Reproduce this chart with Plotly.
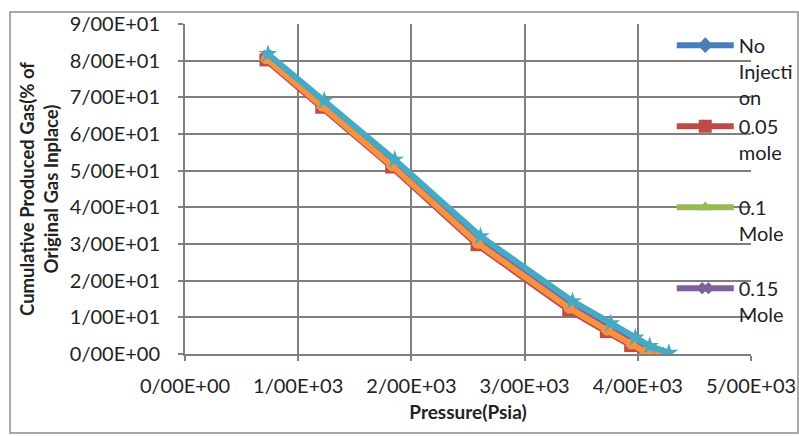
import plotly.graph_objects as go

# Reservoir pressure (psia) and cumulative produced gas (% of OGIP) per injection case
p_no_inj = [725, 1220, 1840, 2595, 3405, 3740, 3955, 4075, 4185]
g_no_inj = [81.0, 68.2, 52.0, 30.9, 13.2, 7.2, 3.4, 1.2, 0.0]

p_005 = [715, 1208, 1826, 2580, 3390, 3722, 3937, 4057, 4165]
g_005 = [80.2, 67.3, 51.0, 29.8, 12.0, 6.1, 2.3, 0.3, 0.0]

p_010 = [721, 1215, 1834, 2589, 3399, 3733, 3948, 4068, 4178]
g_010 = [80.7, 67.8, 51.6, 30.5, 12.8, 6.8, 3.0, 0.8, 0.0]

p_015 = [728, 1224, 1845, 2600, 3411, 3748, 3963, 4085, 4200]
g_015 = [81.3, 68.5, 52.3, 31.3, 13.6, 7.6, 3.8, 1.6, 0.2]

p_020 = [719, 1212, 1830, 2585, 3395, 3728, 3943, 4063, 4172]
g_020 = [80.5, 67.6, 51.3, 30.2, 12.5, 6.5, 2.7, 0.6, 0.0]

p_025 = [733, 1230, 1853, 2610, 3423, 3762, 3978, 4105, 4275]
g_025 = [81.8, 69.1, 53.0, 32.1, 14.4, 8.4, 4.5, 2.2, 0.3]

x_tickvals = [0, 1000, 2000, 3000, 4000, 5000]
x_ticktext = ["0/00E+00", "1/00E+03", "2/00E+03", "3/00E+03", "4/00E+03", "5/00E+03"]
y_tickvals = [0, 10, 20, 30, 40, 50, 60, 70, 80, 90]
y_ticktext = ["0/00E+00", "1/00E+01", "2/00E+01", "3/00E+01", "4/00E+01",
              "5/00E+01", "6/00E+01", "7/00E+01", "8/00E+01", "9/00E+01"]

FONT = "Lato, 'Open Sans', sans-serif"
GRID = "#7f7f7f"

series = [
    ("No<br>Injecti<br>on", p_no_inj, g_no_inj, "#4A7EBB", "diamond", 12, True),
    ("0.05<br>mole<br> ", p_005, g_005, "#BE4B48", "square", 13, True),
    ("0.1<br>Mole<br> ", p_010, g_010, "#98B954", "triangle-up", 12, True),
    ("0.15<br>Mole", p_015, g_015, "#7D60A0", "x", 11, True),
    ("0.2 Mole", p_020, g_020, "#F69240", "circle", 11, False),
    ("0.25 Mole", p_025, g_025, "#46AAC5", "star", 14, False),
]

fig = go.Figure()
for i, (name, px_, gy, color, sym, msize, show) in enumerate(series):
    fig.add_trace(go.Scatter(
        x=px_, y=gy, name=name, mode="lines+markers",
        line=dict(color=color, width=6),
        marker=dict(symbol=sym, size=msize, color=color),
        showlegend=show, legendgroup=f"g{i}",
    ))

fig.update_layout(
    width=799, height=436,
    margin=dict(l=185, r=48, t=24, b=82, autoexpand=False),
    paper_bgcolor="white", plot_bgcolor="white",
    font=dict(family=FONT, size=20, color="#222222"),
    legend=dict(
        x=0.86, y=0.995, xanchor="left", yanchor="top",
        bgcolor="rgba(0,0,0,0)", font=dict(family=FONT, size=20, color="#222222"),
        itemwidth=57, tracegroupgap=0, valign="top",
    ),
    shapes=[dict(type="rect", xref="paper", yref="paper",
                 x0=-175 / 566, y0=-79 / 330, x1=1 + 47 / 566, y1=1 + 12 / 330,
                 line=dict(color="#8c8c8c", width=1.5), fillcolor="rgba(0,0,0,0)",
                 layer="below")],
)

fig.update_xaxes(
    range=[0, 5000], tickvals=x_tickvals, ticktext=x_ticktext,
    showgrid=True, gridcolor=GRID, gridwidth=2,
    showline=True, linecolor=GRID, linewidth=2,
    ticks="outside", ticklen=5, tickcolor=GRID, tickwidth=2,
    ticklabelstandoff=8, zeroline=False,
    title=dict(text="<b>Pressure(Psia)</b>", font=dict(size=19), standoff=10),
)
fig.update_yaxes(
    range=[0, 90], tickvals=y_tickvals, ticktext=y_ticktext,
    showgrid=True, gridcolor=GRID, gridwidth=2,
    showline=True, linecolor=GRID, linewidth=2,
    ticks="outside", ticklen=5, tickcolor=GRID, tickwidth=2,
    ticklabelstandoff=14, zeroline=False,
    title=dict(text="<b>Cumulative Produced Gas(% of<br>Original Gas Inplace)</b>",
               font=dict(size=18.5), standoff=6),
)

fig.write_html("out.html")
